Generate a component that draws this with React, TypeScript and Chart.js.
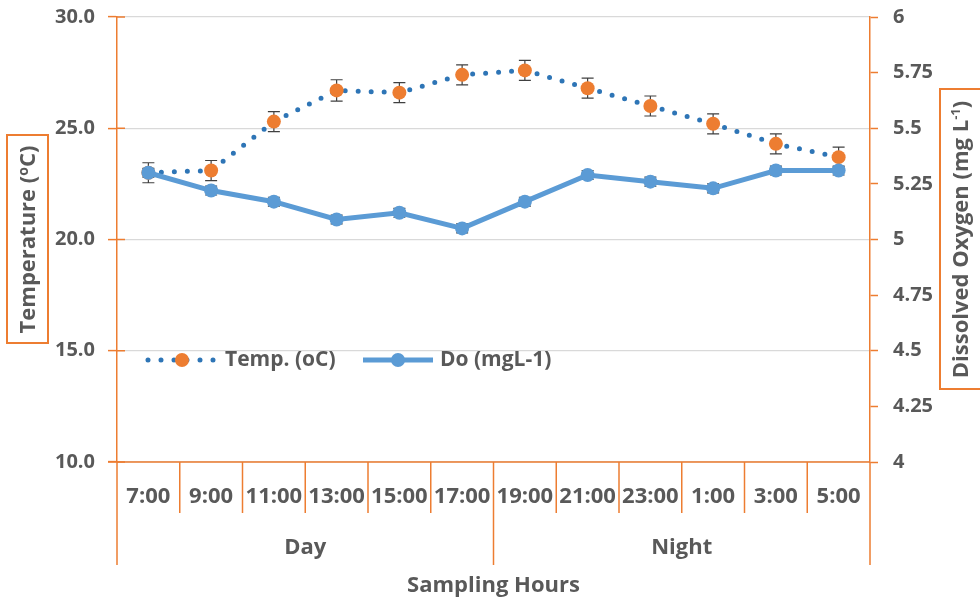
import React, { useEffect, useRef } from 'react';
import { Chart, registerables } from 'chart.js';

Chart.register(...registerables);

const hours = ['7:00', '9:00', '11:00', '13:00', '15:00', '17:00', '19:00', '21:00', '23:00', '1:00', '3:00', '5:00'];
const periods = ['Day', 'Night'];
const periodSpans = [6, 6];
const tempValues = [23.0, 23.1, 25.3, 26.7, 26.6, 27.4, 27.6, 26.8, 26.0, 25.2, 24.3, 23.7];
const tempErrors = [0.45, 0.45, 0.45, 0.48, 0.45, 0.45, 0.45, 0.45, 0.45, 0.45, 0.45, 0.45];
const doValues = [5.3, 5.22, 5.17, 5.09, 5.12, 5.05, 5.17, 5.29, 5.26, 5.23, 5.31, 5.31];
const doErrors = [0.02, 0.02, 0.02, 0.02, 0.02, 0.02, 0.02, 0.02, 0.02, 0.02, 0.02, 0.02];
const tempLabel = 'Temp. (oC)';
const doLabel = 'Do (mgL-1)';
const xTitle = 'Sampling Hours';

const ORANGE = '#ED7D31';
const BLUE = '#5B9BD5';
const DOT_BLUE = '#2E75B6';
const TEXT = '#595959';
const FONT = "'Open Sans', sans-serif";

type Seg = { t: string; size: number; dy: number };

function drawRich(ctx: CanvasRenderingContext2D, segs: Seg[], cx: number, cy: number) {
  ctx.save();
  ctx.translate(cx, cy);
  ctx.rotate(-Math.PI / 2);
  let total = 0;
  segs.forEach((s) => {
    ctx.font = `bold ${s.size}px ${FONT}`;
    total += ctx.measureText(s.t).width;
  });
  let x = -total / 2;
  ctx.textBaseline = 'middle';
  ctx.textAlign = 'left';
  ctx.fillStyle = TEXT;
  segs.forEach((s) => {
    ctx.font = `bold ${s.size}px ${FONT}`;
    ctx.fillText(s.t, x, s.dy);
    x += ctx.measureText(s.t).width;
  });
  ctx.restore();
}

const errorBarPlugin = {
  id: 'errorBars',
  beforeDatasetDraw(chart: any, args: any) {
    const ds = chart.data.datasets[args.index];
    if (!ds.errors) return;
    const meta = args.meta;
    const yScale = chart.scales[meta.yAxisID];
    const ctx = chart.ctx;
    ctx.save();
    ctx.strokeStyle = '#404040';
    ctx.lineWidth = 1.2;
    meta.data.forEach((pt: any, i: number) => {
      const v = ds.data[i];
      const e = ds.errors[i];
      const x = pt.x;
      const yT = yScale.getPixelForValue(v + e);
      const yB = yScale.getPixelForValue(v - e);
      ctx.beginPath();
      ctx.moveTo(x, yT);
      ctx.lineTo(x, yB);
      ctx.moveTo(x - 6, yT);
      ctx.lineTo(x + 6, yT);
      ctx.moveTo(x - 6, yB);
      ctx.lineTo(x + 6, yB);
      ctx.stroke();
    });
    ctx.restore();
  },
};

const decorPlugin = {
  id: 'decor',
  afterDraw(chart: any) {
    const ctx: CanvasRenderingContext2D = chart.ctx;
    const { left, right, top, bottom } = chart.chartArea;
    const yScale = chart.scales.y;
    const n = hours.length;
    const w = (right - left) / n;
    ctx.save();
    ctx.strokeStyle = ORANGE;
    ctx.lineWidth = 1.5;
    yScale.ticks.forEach((t: any) => {
      const y = yScale.getPixelForValue(t.value);
      ctx.beginPath();
      ctx.moveTo(left, y);
      ctx.lineTo(left + 8, y);
      ctx.stroke();
    });
    ctx.beginPath();
    ctx.moveTo(left - 9, bottom);
    ctx.lineTo(right, bottom);
    ctx.stroke();
    let acc = 0;
    const groupBounds = [0];
    periodSpans.forEach((s) => {
      acc += s;
      groupBounds.push(acc);
    });
    for (let k = 0; k <= n; k++) {
      const x = left + k * w;
      const long = groupBounds.includes(k);
      ctx.beginPath();
      ctx.moveTo(x, bottom);
      ctx.lineTo(x, long ? bottom + 103 : bottom + 51);
      ctx.stroke();
    }
    ctx.fillStyle = TEXT;
    ctx.textAlign = 'center';
    ctx.textBaseline = 'middle';
    ctx.font = `bold 22px ${FONT}`;
    hours.forEach((h, i) => {
      ctx.fillText(h, left + (i + 0.5) * w, bottom + 35);
    });
    periods.forEach((p, i) => {
      const a = groupBounds[i];
      const b = groupBounds[i + 1];
      ctx.fillText(p, left + ((a + b) / 2) * w, bottom + 86);
    });
    ctx.fillText(xTitle, (left + right) / 2, bottom + 124);

    const cy = (top + bottom) / 2;
    ctx.strokeStyle = ORANGE;
    ctx.lineWidth = 2;
    ctx.strokeRect(7, 135, 41, 208);
    drawRich(
      ctx,
      [
        { t: 'Temperature (', size: 22, dy: 0 },
        { t: 'o', size: 14, dy: -5 },
        { t: 'C)', size: 22, dy: 0 },
      ],
      29,
      cy
    );
    ctx.strokeRect(940, 89, 42, 300);
    drawRich(
      ctx,
      [
        { t: 'Dissolved Oxygen (mg L', size: 22, dy: 0 },
        { t: '-1', size: 13, dy: -6 },
        { t: ')', size: 22, dy: 0 },
      ],
      962,
      cy
    );

    const ly = 360;
    ctx.strokeStyle = DOT_BLUE;
    ctx.lineWidth = 5;
    ctx.lineCap = 'round';
    ctx.setLineDash([0, 13]);
    ctx.beginPath();
    ctx.moveTo(148, ly);
    ctx.lineTo(218, ly);
    ctx.stroke();
    ctx.setLineDash([]);
    ctx.fillStyle = ORANGE;
    ctx.beginPath();
    ctx.arc(182, ly, 7, 0, Math.PI * 2);
    ctx.fill();
    ctx.fillStyle = TEXT;
    ctx.textAlign = 'left';
    ctx.font = `bold 21px ${FONT}`;
    ctx.fillText(tempLabel, 225, ly);

    ctx.strokeStyle = BLUE;
    ctx.lineWidth = 5;
    ctx.lineCap = 'butt';
    ctx.beginPath();
    ctx.moveTo(363, ly);
    ctx.lineTo(433, ly);
    ctx.stroke();
    ctx.fillStyle = BLUE;
    ctx.beginPath();
    ctx.arc(398, ly, 7, 0, Math.PI * 2);
    ctx.fill();
    ctx.fillStyle = TEXT;
    ctx.fillText(doLabel, 440, ly);
    ctx.restore();
  },
};

export default function App() {
  const ref = useRef<HTMLCanvasElement | null>(null);
  useEffect(() => {
    if (!ref.current) return;
    const chart = new Chart(ref.current, {
      type: 'line',
      data: {
        labels: hours,
        datasets: [
          {
            label: tempLabel,
            data: tempValues,
            errors: tempErrors,
            yAxisID: 'y',
            order: 1,
            borderColor: DOT_BLUE,
            borderWidth: 5,
            borderDash: [0, 13],
            borderCapStyle: 'round',
            pointRadius: 7,
            pointBackgroundColor: ORANGE,
            pointBorderColor: ORANGE,
            pointBorderWidth: 0,
            tension: 0,
          } as any,
          {
            label: doLabel,
            data: doValues,
            errors: doErrors,
            yAxisID: 'y1',
            order: 0,
            borderColor: BLUE,
            borderWidth: 5,
            pointRadius: 7,
            pointBackgroundColor: BLUE,
            pointBorderColor: BLUE,
            pointBorderWidth: 0,
            tension: 0,
          } as any,
        ],
      },
      options: {
        animation: false,
        responsive: true,
        maintainAspectRatio: false,
        layout: { padding: { top: 17, left: 0, right: 0, bottom: 0 } },
        plugins: { legend: { display: false }, tooltip: { enabled: false } },
        scales: {
          x: {
            type: 'category',
            offset: true,
            grid: { display: false },
            border: { display: false },
            ticks: { display: false },
            afterFit: (s: any) => {
              s.height = 139;
              s.paddingLeft = 0;
              s.paddingRight = 0;
            },
          },
          y: {
            position: 'left',
            min: 10,
            max: 30,
            ticks: {
              stepSize: 5,
              padding: 13,
              color: TEXT,
              font: { family: FONT, size: 20, weight: 'bold' },
              callback: (v: any) => Number(v).toFixed(1),
            },
            grid: { color: '#D9D9D9', lineWidth: 1.2, tickColor: ORANGE, tickLength: 9, tickWidth: 1.5 },
            border: { color: ORANGE, width: 1.5 },
            afterFit: (s: any) => {
              s.width = 117;
              s.paddingTop = 0;
              s.paddingBottom = 0;
            },
          },
          y1: {
            position: 'right',
            min: 4,
            max: 6,
            ticks: {
              stepSize: 0.25,
              padding: 15,
              color: TEXT,
              font: { family: FONT, size: 20, weight: 'bold' },
              callback: (v: any) => String(Number(v)),
            },
            grid: { drawOnChartArea: false, tickColor: ORANGE, tickLength: 8, tickWidth: 1.5 },
            border: { color: ORANGE, width: 1.5 },
            afterFit: (s: any) => {
              s.width = 110;
              s.paddingTop = 0;
              s.paddingBottom = 0;
            },
          },
        },
      } as any,
      plugins: [errorBarPlugin, decorPlugin],
    });
    return () => chart.destroy();
  }, []);
  return (
    <div style={{ position: 'fixed', left: 0, top: 0, width: 980, height: 601, background: '#fff' }}>
      <canvas ref={ref} />
    </div>
  );
}
